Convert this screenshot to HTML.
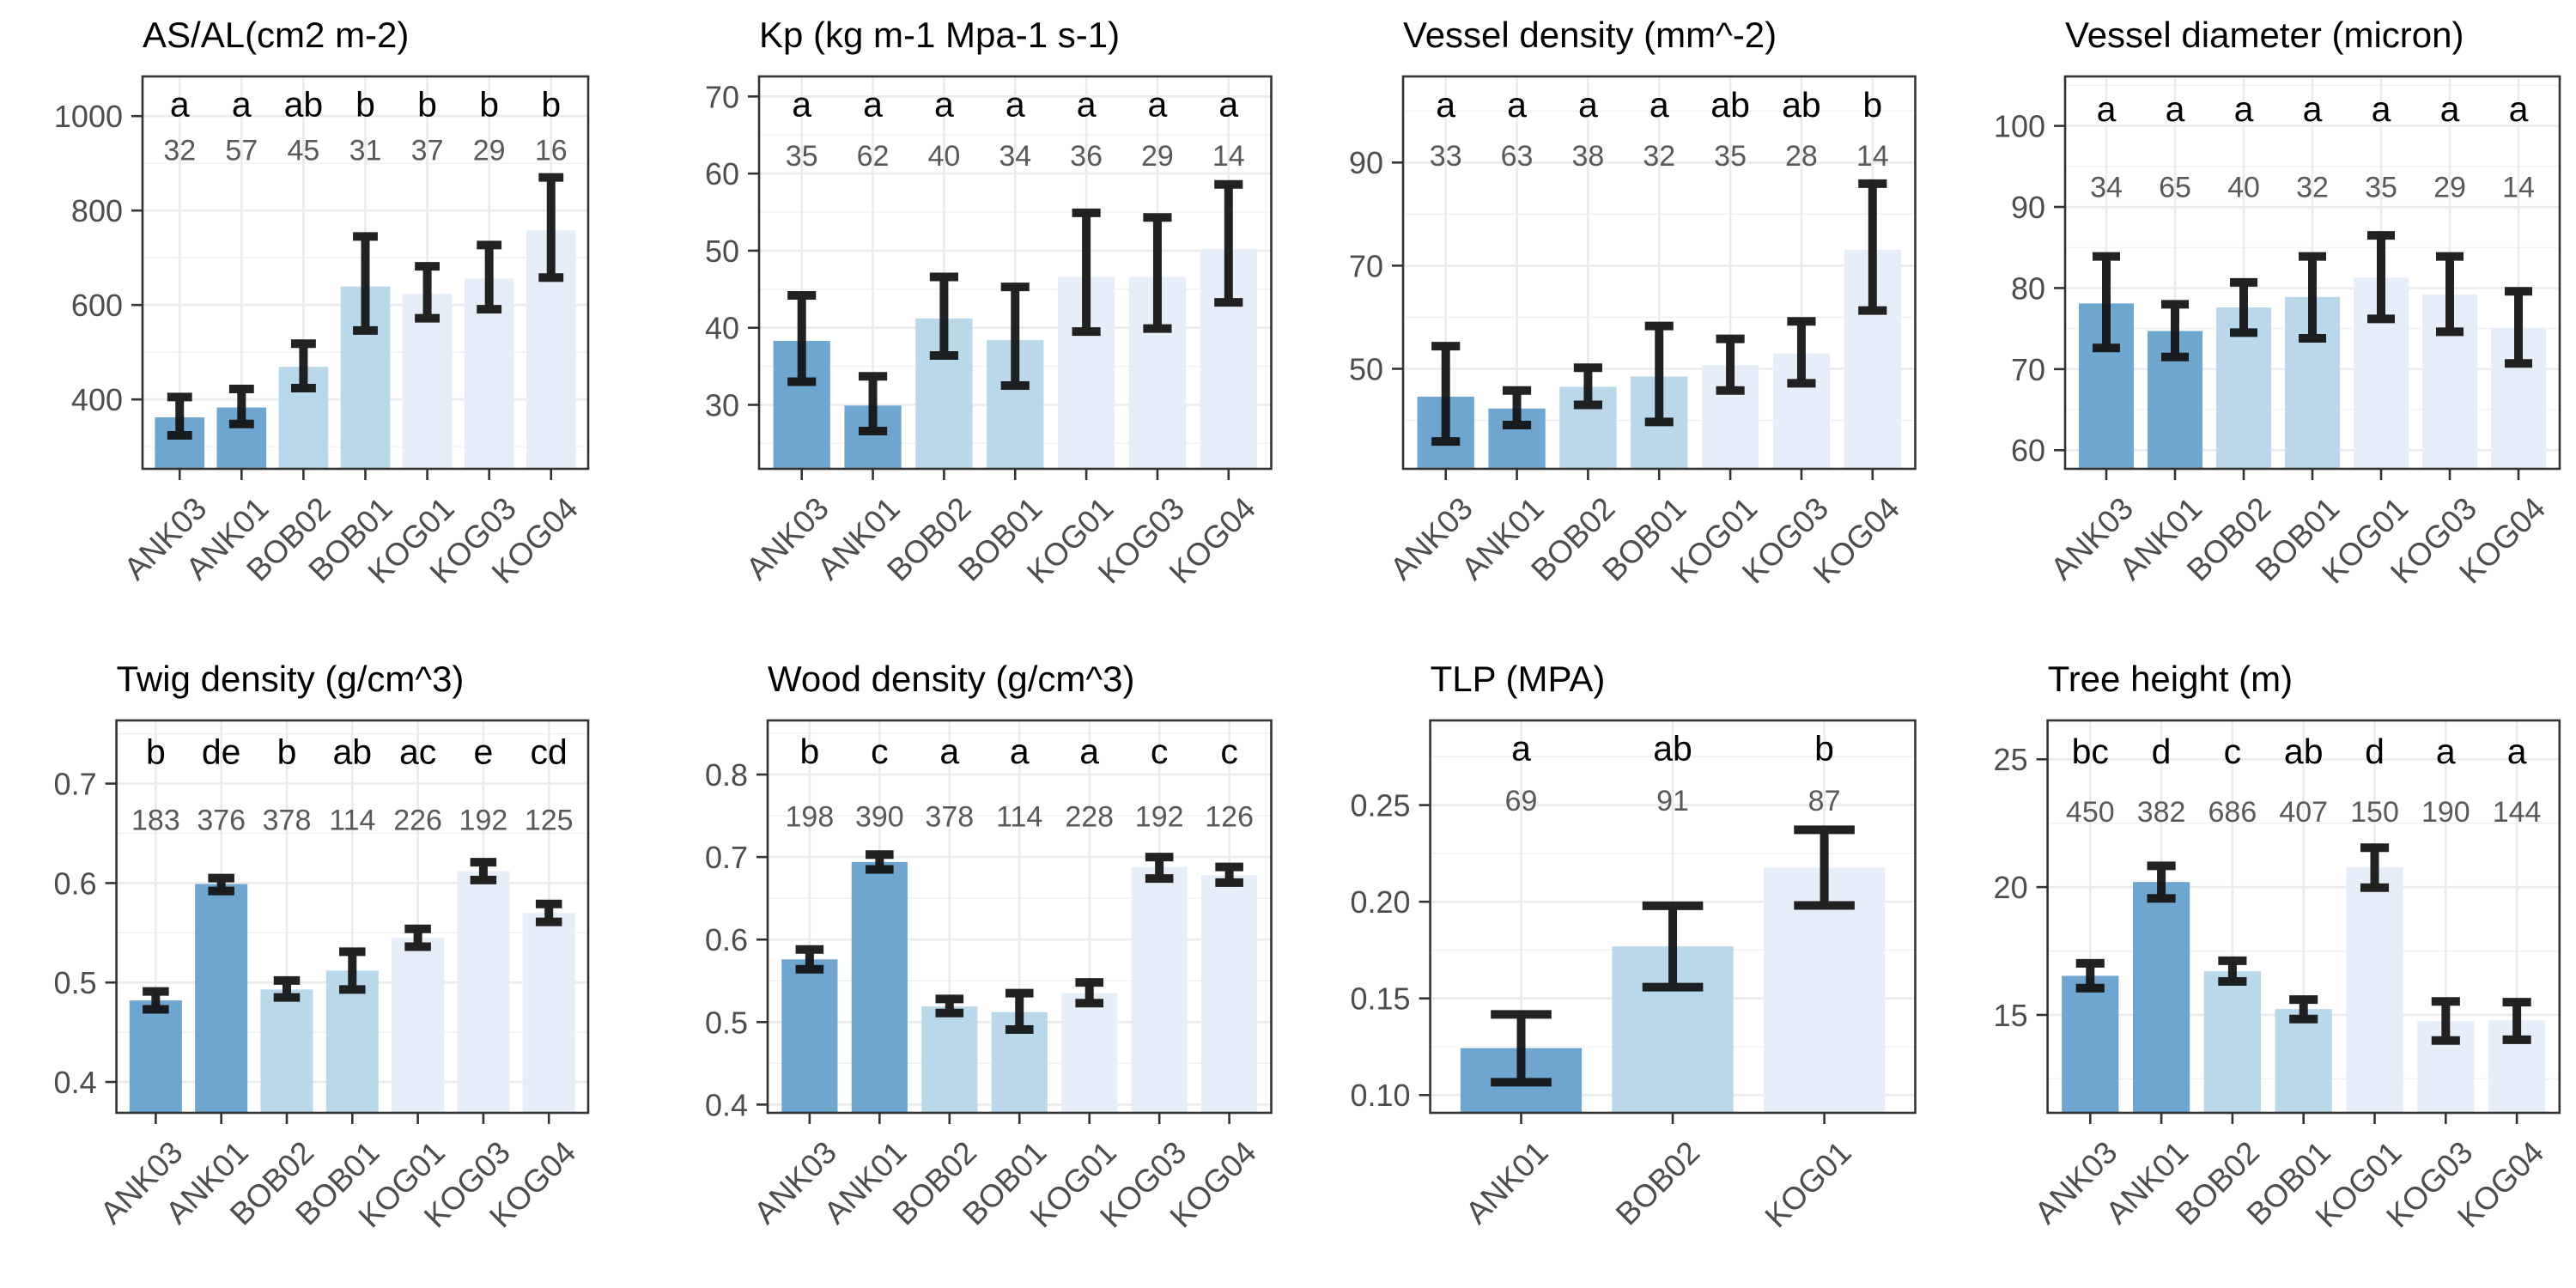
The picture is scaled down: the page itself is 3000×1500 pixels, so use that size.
<!DOCTYPE html>
<html><head><meta charset="utf-8"><style>
html,body{margin:0;padding:0;background:#fff}
svg{display:block}
text{font-family:"Liberation Sans",Arial,sans-serif}
</style></head><body>
<svg id="fig" xmlns="http://www.w3.org/2000/svg" width="3000" height="1500" viewBox="0 0 3000 1500"></svg>
<script>
// ---- data ----
const cats7 = ["ANK03","ANK01","BOB02","BOB01","KOG01","KOG03","KOG04"];
const cats3 = ["ANK01","BOB02","KOG01"];

const asalMean = [362,383,469,639,624,656,758];
const asalLo = [324,348,424,546,572,591,658];
const asalHi = [405,422,518,745,682,727,870];
const asalLetters = ["a","a","ab","b","b","b","b"];
const asalCounts = ["32","57","45","31","37","29","16"];
const asalTicks = [400,600,800,1000];
const asalTickLabels = ["400","600","800","1000"];

const kpMean = [38.3,29.9,41.2,38.4,46.6,46.6,50.2];
const kpLo = [33.0,26.6,36.4,32.5,39.5,39.9,43.3];
const kpHi = [44.2,33.7,46.6,45.3,54.9,54.3,58.6];
const kpLetters = ["a","a","a","a","a","a","a"];
const kpCounts = ["35","62","40","34","36","29","14"];
const kpTicks = [30,40,50,60,70];
const kpTickLabels = ["30","40","50","60","70"];

const vdMean = [44.6,42.3,46.5,48.5,50.7,53.0,73.1];
const vdLo = [35.9,39.1,43.0,39.7,45.8,47.2,61.3];
const vdHi = [54.4,45.8,50.2,58.3,55.8,59.2,85.9];
const vdLetters = ["a","a","a","a","ab","ab","b"];
const vdCounts = ["33","63","38","32","35","28","14"];
const vdTicks = [50,70,90];
const vdTickLabels = ["50","70","90"];

const vdiaMean = [78.1,74.7,77.6,78.9,81.3,79.2,75.1];
const vdiaLo = [72.6,71.5,74.5,73.8,76.2,74.6,70.7];
const vdiaHi = [83.9,78.0,80.7,83.9,86.5,83.9,79.6];
const vdiaLetters = ["a","a","a","a","a","a","a"];
const vdiaCounts = ["34","65","40","32","35","29","14"];
const vdiaTicks = [60,70,80,90,100];
const vdiaTickLabels = ["60","70","80","90","100"];

const twigMean = [0.482,0.599,0.493,0.512,0.545,0.612,0.570];
const twigLo = [0.473,0.592,0.485,0.493,0.536,0.603,0.561];
const twigHi = [0.491,0.605,0.502,0.531,0.554,0.621,0.579];
const twigLetters = ["b","de","b","ab","ac","e","cd"];
const twigCounts = ["183","376","378","114","226","192","125"];
const twigTicks = [0.4,0.5,0.6,0.7];
const twigTickLabels = ["0.4","0.5","0.6","0.7"];

const woodMean = [0.576,0.694,0.519,0.512,0.535,0.688,0.678];
const woodLo = [0.564,0.685,0.511,0.491,0.523,0.674,0.669];
const woodHi = [0.588,0.703,0.528,0.535,0.548,0.700,0.688];
const woodLetters = ["b","c","a","a","a","c","c"];
const woodCounts = ["198","390","378","114","228","192","126"];
const woodTicks = [0.4,0.5,0.6,0.7,0.8];
const woodTickLabels = ["0.4","0.5","0.6","0.7","0.8"];

const tlpMean = [0.1243,0.1769,0.2177];
const tlpLo = [0.1066,0.1558,0.1981];
const tlpHi = [0.1417,0.1979,0.2372];
const tlpLetters = ["a","ab","b"];
const tlpCounts = ["69","91","87"];
const tlpTicks = [0.10,0.15,0.20,0.25];
const tlpTickLabels = ["0.10","0.15","0.20","0.25"];

const thMean = [16.53,20.20,16.71,15.23,20.77,14.76,14.79];
const thLo = [16.05,19.56,16.31,14.84,19.98,14.00,14.03];
const thHi = [17.02,20.83,17.12,15.60,21.54,15.53,15.50];
const thLetters = ["bc","d","c","ab","d","a","a"];
const thCounts = ["450","382","686","407","150","190","144"];
const thTicks = [15,20,25];
const thTickLabels = ["15","20","25"];

// ---- layout (panel geometry / axis ranges) ----
const panels = [
 {name:"as-al",title:"AS/AL(cm2 m-2)",cats:cats7,mean:asalMean,lo:asalLo,hi:asalHi,letters:asalLetters,counts:asalCounts,ticks:asalTicks,tl:asalTickLabels,
  L:166,R:685,T:89,B:546,ymin:253,ymax:1084,minorStep:100,letterY:1020,countY:929},
 {name:"kp",title:"Kp (kg m-1 Mpa-1 s-1)",cats:cats7,mean:kpMean,lo:kpLo,hi:kpHi,letters:kpLetters,counts:kpCounts,ticks:kpTicks,tl:kpTickLabels,
  L:884,R:1480.5,T:89,B:546,ymin:21.7,ymax:72.6,minorStep:5,letterY:68.7,countY:62.4},
 {name:"vessel-density",title:"Vessel density (mm^-2)",cats:cats7,mean:vdMean,lo:vdLo,hi:vdHi,letters:vdLetters,counts:vdCounts,ticks:vdTicks,tl:vdTickLabels,
  L:1634,R:2230.5,T:89,B:546,ymin:30.6,ymax:106.7,minorStep:10,letterY:100.8,countY:91.4},
 {name:"vessel-diameter",title:"Vessel diameter (micron)",cats:cats7,mean:vdiaMean,lo:vdiaLo,hi:vdiaHi,letters:vdiaLetters,counts:vdiaCounts,ticks:vdiaTicks,tl:vdiaTickLabels,
  L:2405,R:2981,T:89,B:546,ymin:57.7,ymax:106.1,minorStep:5,letterY:101.8,countY:92.5},
 {name:"twig-density",title:"Twig density (g/cm^3)",cats:cats7,mean:twigMean,lo:twigLo,hi:twigHi,letters:twigLetters,counts:twigCounts,ticks:twigTicks,tl:twigTickLabels,
  L:135.6,R:685,T:839,B:1296,ymin:0.369,ymax:0.7635,minorStep:0.05,letterY:0.730,countY:0.664},
 {name:"wood-density",title:"Wood density (g/cm^3)",cats:cats7,mean:woodMean,lo:woodLo,hi:woodHi,letters:woodLetters,counts:woodCounts,ticks:woodTicks,tl:woodTickLabels,
  L:894,R:1480.5,T:839,B:1296,ymin:0.39,ymax:0.8656,minorStep:0.05,letterY:0.8255,countY:0.750},
 {name:"tlp",title:"TLP (MPA)",cats:cats3,mean:tlpMean,lo:tlpLo,hi:tlpHi,letters:tlpLetters,counts:tlpCounts,ticks:tlpTicks,tl:tlpTickLabels,
  L:1665.6,R:2230.5,T:839,B:1296,ymin:0.0908,ymax:0.2938,minorStep:0.025,letterY:0.2782,countY:0.2526},
 {name:"tree-height",title:"Tree height (m)",cats:cats7,mean:thMean,lo:thLo,hi:thHi,letters:thLetters,counts:thCounts,ticks:thTicks,tl:thTickLabels,
  L:2384.6,R:2980.8,T:839,B:1296,ymin:11.17,ymax:26.52,minorStep:2.5,letterY:25.23,countY:22.96}
];

const NS="http://www.w3.org/2000/svg";
const svg=document.getElementById('fig');
function mk(tag,attrs,parent){const e=document.createElementNS(NS,tag);for(const k in attrs)e.setAttribute(k,attrs[k]);(parent||svg).appendChild(e);return e;}
function colorFor(c){ if(c.startsWith("ANK"))return "#6fa6d0"; if(c.startsWith("BOB"))return "#b9d8ea"; return "#e6eff9"; }

panels.forEach(p=>{
  const g=mk('g',{});
  
  
  const n=p.cats.length, unit=(p.R-p.L)/(n+0.2);
  const xs=i=>p.L+unit*(0.6+i);
  const ys=v=>p.B-(v-p.ymin)/(p.ymax-p.ymin)*(p.B-p.T);
  // title
  const t=mk('text',{x:p.L,y:p.T-34,'font-size':42,fill:'#000'},g); t.textContent=p.title;
  
  
  // clip
  const cid='clip-'+p.name;
  const cp=mk('clipPath',{id:cid},g); mk('rect',{x:p.L,y:p.T,width:p.R-p.L,height:p.B-p.T},cp);
  const inner=mk('g',{'clip-path':'url(#'+cid+')'},g);
  mk('rect',{x:p.L,y:p.T,width:p.R-p.L,height:p.B-p.T,fill:'#fff'},inner);
  // minor grid
  const m0=Math.ceil(p.ymin/p.minorStep-1e-9);
  for(let k=m0;k*p.minorStep<=p.ymax;k++){
    const v=k*p.minorStep; const yy=ys(v);
    mk('line',{x1:p.L,x2:p.R,y1:yy,y2:yy,stroke:'#f0f0f0','stroke-width':1.3},inner);
  }
  // major grid y
  p.ticks.forEach(v=>{const yy=ys(v);mk('line',{x1:p.L,x2:p.R,y1:yy,y2:yy,stroke:'#ebebeb','stroke-width':2.6},inner);});
  // major grid x
  p.cats.forEach((c,i)=>{mk('line',{x1:xs(i),x2:xs(i),y1:p.T,y2:p.B,stroke:'#ebebeb','stroke-width':2.6},inner);});
  // bars
  p.cats.forEach((c,i)=>{
    const top=ys(p.mean[i]);
    const r=mk('rect',{x:xs(i)-0.4*unit,y:top,width:0.8*unit,height:p.B-top,fill:colorFor(c)},inner);
    
    
  });
  // error bars
  p.cats.forEach((c,i)=>{
    const eg=mk('g',{stroke:'#111','stroke-opacity':0.93,'stroke-width':10,fill:'none'},inner);
    
    
    const x=xs(i), y1=ys(p.hi[i]), y2=ys(p.lo[i]), hw=0.2*unit;
    mk('path',{d:`M${x-hw},${y1}H${x+hw}M${x},${y1}V${y2}M${x-hw},${y2}H${x+hw}`},eg);
  });
  // letters & counts
  p.cats.forEach((c,i)=>{
    const l=mk('text',{x:xs(i),y:ys(p.letterY),'text-anchor':'middle',dy:'0.28em','font-size':41,fill:'#000'},inner); l.textContent=p.letters[i];
    
    
    const ct=mk('text',{x:xs(i),y:ys(p.countY),'text-anchor':'middle',dy:'0.36em','font-size':34,fill:'#595959'},inner); ct.textContent=p.counts[i];
    
    
  });
  // border
  const bd=mk('rect',{x:p.L,y:p.T,width:p.R-p.L,height:p.B-p.T,fill:'none',stroke:'#333','stroke-width':2.6},g);
  
  
  // y ticks
  p.ticks.forEach((v,k)=>{
    const yy=ys(v);
    mk('line',{x1:p.L-13,x2:p.L,y1:yy,y2:yy,stroke:'#333','stroke-width':2.6},g);
    const tx=mk('text',{x:p.L-23,y:yy,dy:'0.36em','text-anchor':'end','font-size':36,fill:'#4d4d4d'},g); tx.textContent=p.tl[k];
    
    
  });
  // x ticks
  p.cats.forEach((c,i)=>{
    const x=xs(i);
    mk('line',{x1:x,x2:x,y1:p.B,y2:p.B+13,stroke:'#333','stroke-width':2.6},g);
    const tx=mk('text',{transform:`translate(${x+15},${p.B+30}) rotate(-45)`,'text-anchor':'end',dy:'0.71em','font-size':37,fill:'#4d4d4d'},g); tx.textContent=c;
    
    
  });
});
</script>
</body></html>
